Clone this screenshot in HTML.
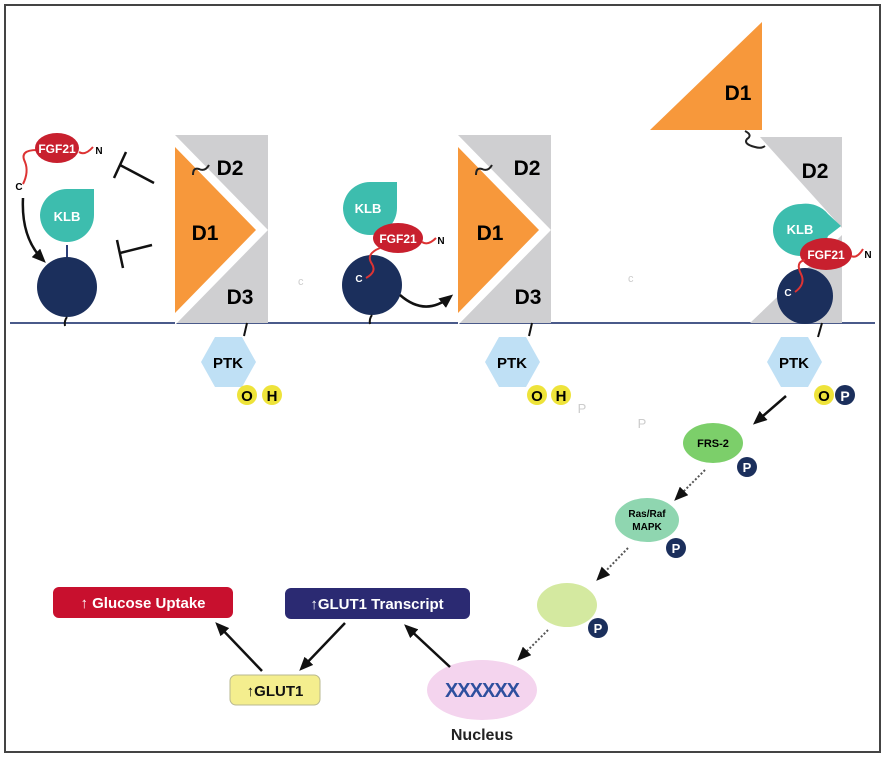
<!DOCTYPE html>
<html><head><style>body{margin:0;background:#fff}svg{display:block;font-family:"Liberation Sans",sans-serif}</style></head><body>
<svg width="886" height="758" viewBox="0 0 886 758">
<defs>
<marker id="ah2" markerWidth="14" markerHeight="12" refX="10" refY="6" orient="auto" markerUnits="userSpaceOnUse"><path d="M0,0 L14,6 L0,12 z" fill="#111"/></marker>
</defs>
<rect x="5" y="5" width="875" height="747" fill="#fff" stroke="#444" stroke-width="2"/>
<line x1="10" y1="323" x2="875" y2="323" stroke="#4a5a8a" stroke-width="2"/>

<!-- Panel 1 -->
<rect x="175" y="135" width="93" height="188" fill="#cfcfd1"/>
<polygon points="175,135 268,230 175,325" fill="#fff"/>
<polygon points="175,147 256,230 175,313" fill="#f7983b"/>
<path d="M193,175 q0,-8 6,-6 q6,3 10,-4" stroke="#222" stroke-width="2" fill="none"/>
<text x="230" y="175" font-size="21" font-weight="bold" text-anchor="middle">D2</text>
<text x="205" y="240" font-size="21" font-weight="bold" text-anchor="middle">D1</text>
<text x="240" y="304" font-size="21" font-weight="bold" text-anchor="middle">D3</text>
<line x1="247" y1="323" x2="244" y2="336" stroke="#111" stroke-width="2"/>
<polygon points="215,337 242,337 256,362 242,387 215,387 201,362" fill="#bfe0f5"/>
<text x="228" y="368" font-size="15" font-weight="bold" text-anchor="middle">PTK</text>
<circle cx="247" cy="395" r="10" fill="#eee33a"/><text x="247" y="401" font-size="15" font-weight="bold" text-anchor="middle">O</text>
<circle cx="272" cy="395" r="10" fill="#eee33a"/><text x="272" y="401" font-size="15" font-weight="bold" text-anchor="middle">H</text>

<line x1="67" y1="245" x2="67" y2="262" stroke="#2b3e78" stroke-width="2"/>
<path d="M40,215 a27,27 0 0 0 27,27 a27,27 0 0 0 27,-27 l0,-26 l-27,0 a27,27 0 0 0 -27,26z" fill="#3dbdae"/>
<text x="67" y="221" font-size="13" font-weight="bold" fill="#fff" text-anchor="middle">KLB</text>
<circle cx="67" cy="287" r="30" fill="#1b2f5c"/>
<path d="M67,317 q-3,4 -2,9" stroke="#111" stroke-width="2" fill="none"/>
<path d="M37,150 q-18,0 -12,12 q4,10 -2,22" stroke="#d33" stroke-width="2" fill="none"/>
<path d="M79,152 q6,4 14,-5" stroke="#d33" stroke-width="2" fill="none"/>
<ellipse cx="57" cy="148" rx="22" ry="15" fill="#c8202e"/>
<text x="57" y="153" font-size="12" font-weight="bold" fill="#fff" text-anchor="middle">FGF21</text>
<text x="99" y="154" font-size="10" font-weight="bold" text-anchor="middle">N</text>
<text x="19" y="190" font-size="10" font-weight="bold" text-anchor="middle">C</text>
<path d="M23,198 q-2,40 20,62" stroke="#111" stroke-width="2.5" fill="none" marker-end="url(#ah2)"/>
<line x1="154" y1="183" x2="120" y2="165" stroke="#111" stroke-width="2.5"/>
<line x1="114" y1="178" x2="126" y2="152" stroke="#111" stroke-width="2.5"/>
<line x1="152" y1="245" x2="120" y2="253" stroke="#111" stroke-width="2.5"/>
<line x1="117" y1="240" x2="123" y2="268" stroke="#111" stroke-width="2.5"/>

<!-- Panel 2 -->
<rect x="458" y="135" width="93" height="188" fill="#cfcfd1"/>
<polygon points="458,135 551,230 458,325" fill="#fff"/>
<polygon points="458,147 539,230 458,313" fill="#f7983b"/>
<path d="M476,175 q0,-8 6,-6 q6,3 10,-4" stroke="#222" stroke-width="2" fill="none"/>
<text x="527" y="175" font-size="21" font-weight="bold" text-anchor="middle">D2</text>
<text x="490" y="240" font-size="21" font-weight="bold" text-anchor="middle">D1</text>
<text x="528" y="304" font-size="21" font-weight="bold" text-anchor="middle">D3</text>
<line x1="532" y1="323" x2="529" y2="336" stroke="#111" stroke-width="2"/>
<polygon points="499,337 526,337 540,362 526,387 499,387 485,362" fill="#bfe0f5"/>
<text x="512" y="368" font-size="15" font-weight="bold" text-anchor="middle">PTK</text>
<circle cx="537" cy="395" r="10" fill="#eee33a"/><text x="537" y="401" font-size="15" font-weight="bold" text-anchor="middle">O</text>
<circle cx="561" cy="395" r="10" fill="#eee33a"/><text x="561" y="401" font-size="15" font-weight="bold" text-anchor="middle">H</text>
<text x="582" y="413" font-size="13" fill="#ccc" text-anchor="middle">P</text>
<text x="642" y="428" font-size="13" fill="#ccc" text-anchor="middle">P</text>

<path d="M343,208 a27,27 0 0 0 27,27 a27,27 0 0 0 27,-27 l0,-26 l-27,0 a27,27 0 0 0 -27,26z" fill="#3dbdae"/>
<text x="368" y="213" font-size="13" font-weight="bold" fill="#fff" text-anchor="middle">KLB</text>
<circle cx="372" cy="285" r="30" fill="#1b2f5c"/>
<path d="M372,315 q-3,4 -2,9" stroke="#111" stroke-width="2" fill="none"/>
<ellipse cx="398" cy="238" rx="25" ry="15" fill="#c8202e"/>
<text x="398" y="243" font-size="12" font-weight="bold" fill="#fff" text-anchor="middle">FGF21</text>
<path d="M380,248 q-15,6 -8,16 q5,8 -6,14" stroke="#d33" stroke-width="2" fill="none"/>
<path d="M422,242 q6,4 14,-4" stroke="#d33" stroke-width="2" fill="none"/>
<text x="441" y="244" font-size="10" font-weight="bold" text-anchor="middle">N</text>
<text x="359" y="282" font-size="10" font-weight="bold" fill="#fff" text-anchor="middle">C</text>
<path d="M400,295 q25,22 50,2" stroke="#111" stroke-width="2.5" fill="none" marker-end="url(#ah2)"/>
<text x="298" y="285" font-size="11" fill="#ccc">c</text>
<text x="628" y="282" font-size="11" fill="#ccc">c</text>

<!-- Panel 3 -->
<polygon points="650,130 762,22 762,130" fill="#f7983b"/>
<text x="738" y="100" font-size="21" font-weight="bold" text-anchor="middle">D1</text>
<polygon points="760,137 842,137 842,228" fill="#cfcfd1"/>
<polygon points="750,323 842,323 842,235" fill="#cfcfd1"/>
<path d="M745,131 q8,4 2,8 q-4,5 8,8 q6,2 10,-1" stroke="#222" stroke-width="2" fill="none"/>
<text x="815" y="178" font-size="21" font-weight="bold" text-anchor="middle">D2</text>
<line x1="822" y1="323" x2="818" y2="337" stroke="#111" stroke-width="2"/>
<polygon points="781,337 808,337 822,362 808,387 781,387 767,362" fill="#bfe0f5"/>
<text x="794" y="368" font-size="15" font-weight="bold" text-anchor="middle">PTK</text>
<path d="M773,230 a28,26 0 0 0 28,26 a28,26 0 0 0 27,-20 l13,-10 l-13,-12 a28,26 0 0 0 -27,-10 a28,26 0 0 0 -28,26z" fill="#3dbdae"/>
<text x="800" y="234" font-size="13" font-weight="bold" fill="#fff" text-anchor="middle">KLB</text>
<circle cx="805" cy="296" r="28" fill="#1b2f5c"/>
<ellipse cx="826" cy="254" rx="26" ry="16" fill="#c8202e"/>
<text x="826" y="259" font-size="12" font-weight="bold" fill="#fff" text-anchor="middle">FGF21</text>
<path d="M805,260 q-10,2 -4,14 q5,10 -6,18" stroke="#d33" stroke-width="2" fill="none"/>
<path d="M851,256 q6,3 12,-7" stroke="#d33" stroke-width="2" fill="none"/>
<text x="868" y="258" font-size="10" font-weight="bold" text-anchor="middle">N</text>
<text x="788" y="296" font-size="10" font-weight="bold" fill="#fff" text-anchor="middle">C</text>
<circle cx="824" cy="395" r="10" fill="#eee33a"/><text x="824" y="401" font-size="15" font-weight="bold" text-anchor="middle">O</text>
<circle cx="845" cy="395" r="10" fill="#1b2f5c"/><text x="845" y="401" font-size="14" font-weight="bold" fill="#fff" text-anchor="middle">P</text>

<!-- cascade -->
<line x1="786" y1="396" x2="756" y2="422" stroke="#111" stroke-width="2.5" marker-end="url(#ah2)"/>
<ellipse cx="713" cy="443" rx="30" ry="20" fill="#7ccf6a"/>
<text x="713" y="447" font-size="11" font-weight="bold" text-anchor="middle">FRS-2</text>
<circle cx="747" cy="467" r="10" fill="#1b2f5c"/><text x="747" y="472" font-size="13" font-weight="bold" fill="#fff" text-anchor="middle">P</text>
<line x1="705" y1="470" x2="677" y2="498" stroke="#555" stroke-width="2" stroke-dasharray="2,2" marker-end="url(#ah2)"/>
<ellipse cx="647" cy="520" rx="32" ry="22" fill="#8fd6b0"/>
<text x="647" y="517" font-size="10" font-weight="bold" text-anchor="middle">Ras/Raf</text>
<text x="647" y="530" font-size="10" font-weight="bold" text-anchor="middle">MAPK</text>
<circle cx="676" cy="548" r="10" fill="#1b2f5c"/><text x="676" y="553" font-size="13" font-weight="bold" fill="#fff" text-anchor="middle">P</text>
<line x1="628" y1="548" x2="599" y2="578" stroke="#555" stroke-width="2" stroke-dasharray="2,2" marker-end="url(#ah2)"/>
<ellipse cx="567" cy="605" rx="30" ry="22" fill="#d4e9a0"/>
<circle cx="598" cy="628" r="10" fill="#1b2f5c"/><text x="598" y="633" font-size="13" font-weight="bold" fill="#fff" text-anchor="middle">P</text>
<line x1="548" y1="630" x2="520" y2="658" stroke="#555" stroke-width="2" stroke-dasharray="2,2" marker-end="url(#ah2)"/>
<ellipse cx="482" cy="690" rx="55" ry="30" fill="#f4d4ee"/>
<text x="482" y="697" font-size="20" font-weight="bold" fill="#2e4f9e" text-anchor="middle" letter-spacing="-1">XXXXXX</text>
<text x="482" y="740" font-size="16" font-weight="bold" fill="#222" text-anchor="middle">Nucleus</text>

<rect x="53" y="587" width="180" height="31" rx="6" fill="#c8102e"/>
<text x="143" y="608" font-size="15" font-weight="bold" fill="#fff" text-anchor="middle">↑ Glucose Uptake</text>
<rect x="285" y="588" width="185" height="31" rx="6" fill="#2b2a72"/>
<text x="377" y="609" font-size="15" font-weight="bold" fill="#fff" text-anchor="middle">↑GLUT1 Transcript</text>
<rect x="230" y="675" width="90" height="30" rx="6" fill="#f4ee8e" stroke="#b8b890"/>
<text x="275" y="696" font-size="15" font-weight="bold" fill="#111" text-anchor="middle">↑GLUT1</text>

<line x1="262" y1="671" x2="218" y2="625" stroke="#111" stroke-width="2.5" marker-end="url(#ah2)"/>
<line x1="345" y1="623" x2="302" y2="668" stroke="#111" stroke-width="2.5" marker-end="url(#ah2)"/>
<line x1="450" y1="667" x2="407" y2="627" stroke="#111" stroke-width="2.5" marker-end="url(#ah2)"/>
</svg>
</body></html>
